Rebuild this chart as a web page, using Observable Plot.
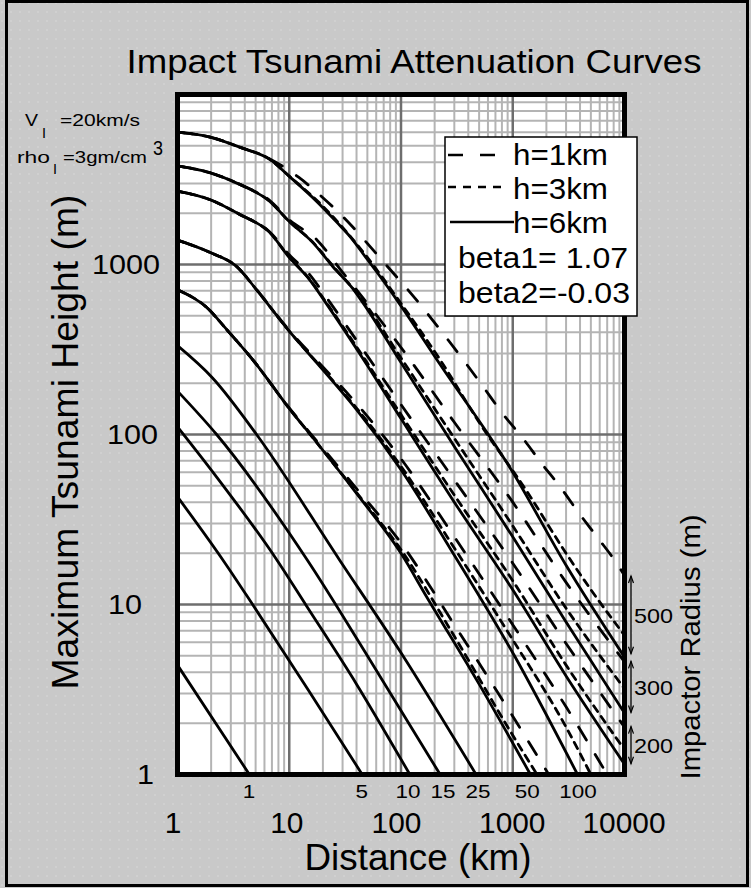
<!DOCTYPE html>
<html>
<head>
<meta charset="utf-8">
<script src="https://cdn.jsdelivr.net/npm/d3@7"></script>
<script src="https://cdn.jsdelivr.net/npm/@observablehq/plot@0.6"></script>
<style>
  html, body { margin: 0; padding: 0; background: #c9c9c9; }
  #chart { width: 751px; height: 888px; }
  svg { display: block; }
</style>
</head>
<body>
<div id="chart"></div>
<script>
// ---------- tick labels ----------
const xTickValues = [1, 10, 100, 1000, 10000];
const yTickValues = [1, 10, 100, 1000];
// impactor radius labels under the frame (label, distance in km where it sits)
const radiusLabels = ["1", "5", "10", "15", "25", "50", "100"];
const radiusLabelAt = [4.4, 45, 117, 240, 494, 1360, 3880];
// right-hand brackets: radius label, [top, bottom] heights at 10000 km
const bracketLabels = ["500", "300", "200"];
const bracketRanges = [[14.6, 5.1], [4.6, 2.3], [1.9, 1.15]];

// ---------- curves: [distance km, max tsunami height m] ----------
// small impactors: the three water depths coincide
const r1  = [[1,4.4],[4.4,1]];
const r5  = [[1,43],[2.53,18.4],[4.7,10],[15,3.1],[45,1]];
const r10 = [[1,111],[2,62],[7.7,18.4],[14,10],[40,3.4],[120,1]];
const r15 = [[1,180],[2.24,100],[14.4,18.4],[50,5],[224,1]];
const r25 = [[1,333],[2.06,215],[5.1,100],[28,18.4],[100,5.2],[470,1]];

const r50_h6 = [[1,710],[1.82,560],[2.75,415],[4.7,276],[9.7,146],[18.8,85],[40,45],[100,20],[171,11],[500,3.4],[1440,1]];
const r50_h3 = [[1,710],[1.82,560],[2.75,415],[4.7,276],[9.7,146],[18.8,85],[40,45.5],[100,21],[300,6.5],[1000,1.7],[1650,1]];
const r50_h1 = [[1,710],[1.82,560],[2.75,415],[4.7,276],[9.7,147],[18.8,87],[40,48],[100,23],[300,7.6],[1000,2.2],[2100,1]];

const r100_h6 = [[1,1390],[1.94,1180],[3.4,970],[5.1,710],[9.7,415],[20,240],[40,140],[100,62],[300,19.5],[1000,5.2],[3800,1]];
const r100_h3 = [[1,1390],[1.94,1180],[3.4,970],[5.1,710],[9.7,415],[20,242],[40,143],[100,65],[300,21.5],[1000,6.2],[3000,1.9],[5000,1]];
const r100_h1 = [[1,1390],[1.94,1180],[3.4,970],[5.1,712],[9.7,420],[20,250],[40,152],[100,72],[300,25],[1000,7.6],[3000,2.5],[7000,1]];

const r200_h6 = [[1,2700],[1.94,2410],[3.6,1970],[6.7,1540],[10,1100],[15.3,810],[20.8,607],[50,255],[100,124],[300,40],[1000,12.2],[3000,3.8],[10000,1.15]];
const r200_h3 = [[1,2700],[1.94,2410],[3.6,1970],[6.7,1540],[10,1105],[15.3,815],[20.8,615],[50,263],[100,131],[300,44],[1000,13.8],[3000,4.4],[10000,1.4]];
const r200_h1 = [[1,2700],[1.94,2410],[3.6,1975],[6.7,1555],[10,1140],[15.3,870],[20.8,660],[50,290],[100,150],[300,54],[1000,17.5],[3000,5.9],[10000,1.9]];

const r300_h6 = [[1,3800],[1.94,3470],[3.6,2960],[6.7,2350],[10,1790],[16.2,1350],[24.6,970],[36.3,733],[44.7,607],[100,265],[300,85],[1000,25],[3000,7.9],[10000,2.3]];
const r300_h3 = [[1,3800],[1.94,3470],[3.6,2960],[6.7,2350],[10,1790],[16.2,1355],[24.6,980],[44.7,625],[100,282],[300,95],[1000,29],[3000,9.5],[10000,3.2]];
const r300_h1 = [[1,3800],[1.94,3470],[3.6,2965],[6.7,2380],[10,1830],[17.6,1400],[30,900],[50,590],[100,325],[300,118],[1000,40],[3000,13.5],[10000,4.6]];

const r500_h6 = [[1,6000],[2,5600],[3.6,4900],[6.7,4150],[10,3300],[17.6,2350],[26.7,1770],[35,1460],[50,1070],[65,850],[94,605],[224,258],[1000,60],[3000,17],[10000,4.9]];
const r500_h3 = [[1,6000],[2,5600],[3.6,4900],[6.7,4150],[10,3310],[20,2200],[50,1100],[100,590],[224,275],[500,118],[1377,45],[3000,20],[8000,8],[10000,6.6]];
const r500_h1 = [[1,6000],[2,5600],[3.6,4900],[6.7,4180],[12.2,3250],[20,2470],[32.8,1810],[49.5,1340],[76,970],[115,712],[258,367],[383,261],[556,187],[808,133],[1217,96],[1830,67],[2670,49],[3870,34.8],[5730,24.8],[8300,17.9],[10000,14.8]];

const curves = [
  {radius: 1, depth: 6, pts: r1}, {radius: 5, depth: 6, pts: r5},
  {radius: 10, depth: 6, pts: r10}, {radius: 15, depth: 6, pts: r15},
  {radius: 25, depth: 6, pts: r25},
  {radius: 50, depth: 6, pts: r50_h6}, {radius: 50, depth: 3, pts: r50_h3}, {radius: 50, depth: 1, pts: r50_h1},
  {radius: 100, depth: 6, pts: r100_h6}, {radius: 100, depth: 3, pts: r100_h3}, {radius: 100, depth: 1, pts: r100_h1},
  {radius: 200, depth: 6, pts: r200_h6}, {radius: 200, depth: 3, pts: r200_h3}, {radius: 200, depth: 1, pts: r200_h1},
  {radius: 300, depth: 6, pts: r300_h6}, {radius: 300, depth: 3, pts: r300_h3}, {radius: 300, depth: 1, pts: r300_h1},
  {radius: 500, depth: 6, pts: r500_h6}, {radius: 500, depth: 3, pts: r500_h3}, {radius: 500, depth: 1, pts: r500_h1}
];
const rows = curves.flatMap(c => c.pts.map(([d, u]) => ({radius: c.radius, depth: c.depth, d, u})));

// log grid positions
const majorX = [10, 100, 1000];
const majorY = [10, 100, 1000];
const minorX = [], minorY = [];
for (const dec of [1, 10, 100, 1000]) for (let k = 2; k <= 9; k++) { minorX.push(dec * k); minorY.push(dec * k); }

const FONT = "'Liberation Sans', Arial, Helvetica, sans-serif";

const chart = Plot.plot({
  width: 751, height: 888,
  marginLeft: 177, marginRight: 127, marginTop: 94, marginBottom: 114,
  x: {type: "log", domain: [1, 10000], axis: null},
  y: {type: "log", domain: [1, 10000], axis: null},
  style: {background: "transparent", fontFamily: FONT},
  marks: [
    Plot.frame({fill: "white", stroke: null}),
    Plot.ruleX(minorX, {stroke: "#b4b4b4", strokeWidth: 2}),
    Plot.ruleY(minorY, {stroke: "#b4b4b4", strokeWidth: 2}),
    Plot.ruleX(majorX, {stroke: "#6e6e6e", strokeWidth: 2.5}),
    Plot.ruleY(majorY, {stroke: "#6e6e6e", strokeWidth: 2.5}),
    Plot.line(rows.filter(r => r.depth === 6), {x: "d", y: "u", z: "radius", stroke: "black", strokeWidth: 2.8, curve: "monotone-x", clip: true}),
    Plot.line(rows.filter(r => r.depth === 3), {x: "d", y: "u", z: "radius", stroke: "black", strokeWidth: 2.8, strokeDasharray: "7,6", curve: "monotone-x", clip: true}),
    Plot.line(rows.filter(r => r.depth === 1), {x: "d", y: "u", z: "radius", stroke: "black", strokeWidth: 2.8, strokeDasharray: "15,17", curve: "monotone-x", clip: true}),
    Plot.frame({stroke: "black", strokeWidth: 5})
  ]
});

document.getElementById("chart").appendChild(chart);

// ---------- decorations ----------
const svg = d3.select(chart);
const sx = chart.scale("x"), sy = chart.scale("y");
const X = v => sx.apply(v), Y = v => sy.apply(v);

// background with faint dots
const defs = svg.insert("defs", ":first-child");
const pat = defs.append("pattern").attr("id", "dots").attr("width", 9).attr("height", 9).attr("patternUnits", "userSpaceOnUse");
pat.append("rect").attr("width", 9).attr("height", 9).attr("fill", "#c9c9c9");
pat.append("circle").attr("cx", 2).attr("cy", 3).attr("r", 0.7).attr("fill", "#dedede");
svg.insert("rect", "defs + *").attr("x", 0).attr("y", 0).attr("width", 751).attr("height", 888).attr("fill", "url(#dots)");
svg.append("rect").attr("x", 6.5).attr("y", 1.5).attr("width", 741).attr("height", 884)
  .attr("fill", "none").attr("stroke", "black").attr("stroke-width", 3);

const g = svg.append("g").attr("font-family", FONT).attr("fill", "black").attr("text-anchor", "start");
function text(x, y, s, size, opts = {}) {
  const t = g.append("text").attr("x", x).attr("y", y).attr("font-size", size)
    .attr("text-anchor", opts.anchor || "start").text(s);
  if (opts.len) t.attr("textLength", opts.len).attr("lengthAdjust", "spacingAndGlyphs");
  if (opts.transform) t.attr("transform", opts.transform);
  return t;
}

// title
text(414, 73, "Impact Tsunami Attenuation Curves", 34, {anchor: "middle", len: 575});

// impactor parameters
text(25, 126, "V", 17, {len: 13});
text(42, 138, "I", 14, {len: 4});
text(60, 126, "=20km/s", 17, {len: 80});
text(17, 163, "rho", 17, {len: 33});
text(53, 174, "I", 14, {len: 4});
text(63, 163, "=3gm/cm", 17, {len: 84});
text(153, 155, "3", 21, {len: 10});

// axis titles
text(0, 0, "Maximum Tsunami Height (m)", 37, {anchor: "middle", len: 495, transform: "translate(78,442) rotate(-90)"});
text(418, 870, "Distance (km)", 36, {anchor: "middle", len: 227});
text(0, 0, "Impactor Radius (m)", 28, {anchor: "middle", len: 265, transform: "translate(700,647) rotate(-90)"});

// tick labels
const xTickShift = {1: -4, 10: -2, 100: -4, 1000: 0, 10000: 0};
xTickValues.forEach(v => {
  const s = String(v);
  text(X(v) + xTickShift[v], 833, s, 30, {anchor: "middle", len: s.length * 16.6});
});
const yTickRight = {1: 154, 10: 142, 100: 158, 1000: 160};
yTickValues.forEach(v => {
  const s = String(v);
  text(yTickRight[v], Y(v) + 10, s, 28, {anchor: "end", len: s.length * 17});
});
radiusLabels.forEach((s, i) => {
  text(X(radiusLabelAt[i]), 798, s, 18, {anchor: "middle", len: s.length * 12.5});
});

// right-hand brackets with arrows
bracketLabels.forEach((s, i) => {
  const [top, bot] = bracketRanges[i];
  const y1 = Y(top), y2 = Y(bot), bx = X(10000) + 7;
  g.append("line").attr("x1", bx).attr("x2", bx).attr("y1", y1).attr("y2", y2).attr("stroke", "black").attr("stroke-width", 1.3);
  g.append("path").attr("d", `M${bx-2.5},${y1+7}L${bx},${y1}L${bx+2.5},${y1+7}`).attr("fill", "none").attr("stroke", "black").attr("stroke-width", 1.2);
  g.append("path").attr("d", `M${bx-2.5},${y2-7}L${bx},${y2}L${bx+2.5},${y2-7}`).attr("fill", "none").attr("stroke", "black").attr("stroke-width", 1.2);
  text(bx + 3, (y1 + y2) / 2 + 8, s, 21, {len: 39});
});

// legend box
const lg = g.append("g");
lg.append("rect").attr("x", 445).attr("y", 137).attr("width", 192).attr("height", 179)
  .attr("fill", "white").attr("stroke", "black").attr("stroke-width", 1.5);
lg.append("line").attr("x1", 448).attr("x2", 512).attr("y1", 155).attr("y2", 155).attr("stroke", "black").attr("stroke-width", 2.6).attr("stroke-dasharray", "15,17");
lg.append("line").attr("x1", 448).attr("x2", 504).attr("y1", 187).attr("y2", 187).attr("stroke", "black").attr("stroke-width", 2.6).attr("stroke-dasharray", "8,7");
lg.append("line").attr("x1", 450).attr("x2", 514).attr("y1", 222).attr("y2", 222).attr("stroke", "black").attr("stroke-width", 2.6);
text(513, 165, "h=1km", 30, {len: 95});
text(513, 199, "h=3km", 30, {len: 95});
text(513, 233, "h=6km", 30, {len: 95});
text(458, 268, "beta1= 1.07", 29, {len: 170});
text(458, 303, "beta2=-0.03", 29, {len: 172});
</script>
</body>
</html>
